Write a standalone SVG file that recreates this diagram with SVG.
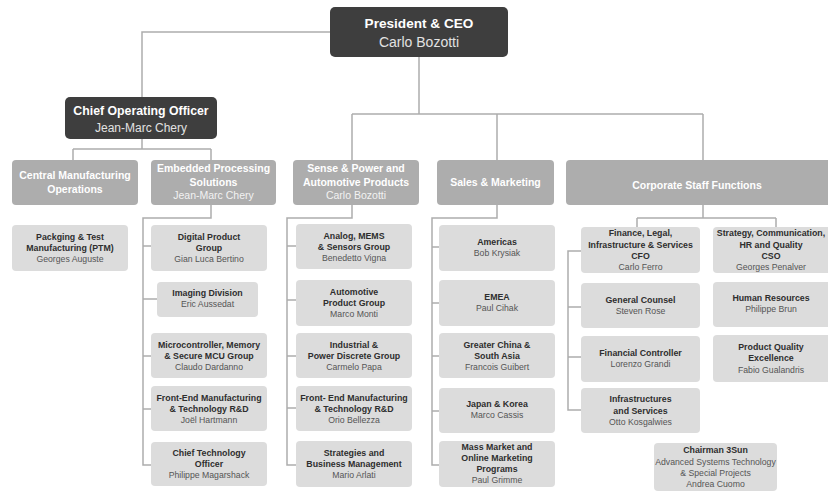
<svg xmlns="http://www.w3.org/2000/svg" width="828" height="492" viewBox="0 0 828 492">
<style>
text{font-family:"Liberation Sans","DejaVu Sans",sans-serif;text-anchor:middle}
.d{fill:#3e3e3e}
.m{fill:#adadad}
.l{fill:#dcdcdc}
.c{fill:none;stroke:#adadad;stroke-width:1.5}
.t1{font-size:13.6px;font-weight:bold;fill:#fff}
.n1{font-size:14px;fill:#e2e2e2}
.t2{font-size:12.3px;font-weight:bold;fill:#fff}
.n2{font-size:12px;fill:#e2e2e2}
.t3{font-size:10.5px;font-weight:bold;fill:#fff}
.n3{font-size:10.5px;fill:#f2f2f2}
.t4{font-size:8.8px;font-weight:bold;fill:#2e2e2e}
.n4{font-size:8.7px;fill:#555}
</style>
<g id="connectors">
<path class="c" d="M330,32H142V97"/>
<path class="c" d="M419,57V114M352,114H703M352,114V160M497,114V160M703,114V160"/>
<path class="c" d="M142,139V149M73,149H211M73,149V160M211,149V160"/>
<path class="c" d="M211,205V218H143V465H151M143,246H151M143,299H157M143,356H151M143,409H151"/>
<path class="c" d="M352,205V218H287V465H296M287,246H296M287,300H296M287,356H296M287,408H296"/>
<path class="c" d="M497,205V218H432V465H439M432,247H439M432,303H439M432,356H439M432,411H439"/>
<path class="c" d="M703,205V218M637,218H776M637,218V227M776,218V227"/>
<path class="c" d="M581,251H568V410H581M568,307H581M568,357H581"/>
</g>
<g id="ceo"><rect class="d" x="330" y="7" width="178" height="50" rx="5"/>
<text class="t1" x="419" y="28">President &amp; CEO</text><text class="n1" x="419" y="47">Carlo Bozotti</text></g>
<g id="coo"><rect class="d" x="65" y="97" width="152" height="42" rx="5"/>
<text class="t2" x="141" y="114.5">Chief Operating Officer</text><text class="n2" x="141" y="131.5">Jean-Marc Chery</text></g>
<g id="central"><rect class="m" x="12" y="160" width="126" height="45" rx="4"/>
<text class="t3" x="75" y="179">Central Manufacturing</text><text class="t3" x="75" y="193">Operations</text></g>
<g id="embedded"><rect class="m" x="151" y="160" width="125" height="45" rx="4"/>
<text class="t3" x="213.5" y="172">Embedded Processing</text><text class="t3" x="213.5" y="185.5">Solutions</text><text class="n3" x="213.5" y="199">Jean-Marc Chery</text></g>
<g id="sense"><rect class="m" x="293" y="160" width="126" height="45" rx="4"/>
<text class="t3" x="356" y="172">Sense &amp; Power and</text><text class="t3" x="356" y="185.5">Automotive Products</text><text class="n3" x="356" y="199">Carlo Bozotti</text></g>
<g id="sales"><rect class="m" x="437" y="160" width="117" height="45" rx="4"/>
<text class="t3" x="495.5" y="186">Sales &amp; Marketing</text></g>
<g id="corporate"><rect class="m" x="566" y="160" width="270" height="45" rx="4"/>
<text class="t3" x="697" y="188.5">Corporate Staff Functions</text></g>

<g id="ptm"><rect class="l" x="12" y="225" width="116" height="46" rx="4"/>
<text class="t4" x="70" y="240">Packging &amp; Test</text><text class="t4" x="70" y="251">Manufacturing (PTM)</text><text class="n4" x="70" y="262">Georges Auguste</text></g>
<g id="digital"><rect class="l" x="151" y="225" width="116" height="46" rx="4"/>
<text class="t4" x="209" y="240">Digital Product</text><text class="t4" x="209" y="251">Group</text><text class="n4" x="209" y="262">Gian Luca Bertino</text></g>
<g id="imaging"><rect class="l" x="157" y="282" width="101" height="35" rx="4"/>
<text class="t4" x="207.5" y="296">Imaging Division</text><text class="n4" x="207.5" y="307">Eric Aussedat</text></g>
<g id="mcu"><rect class="l" x="151" y="333" width="116" height="45" rx="4"/>
<text class="t4" x="209" y="348">Microcontroller, Memory</text><text class="t4" x="209" y="359">&amp; Secure MCU Group</text><text class="n4" x="209" y="370">Claudo Dardanno</text></g>
<g id="frontend1"><rect class="l" x="151" y="386" width="116" height="45" rx="4"/>
<text class="t4" x="209" y="401">Front-End Manufacturing</text><text class="t4" x="209" y="412">&amp; Technology R&amp;D</text><text class="n4" x="209" y="423">Joël Hartmann</text></g>
<g id="cto"><rect class="l" x="151" y="442" width="116" height="44" rx="4"/>
<text class="t4" x="209" y="456">Chief Technology</text><text class="t4" x="209" y="467">Officer</text><text class="n4" x="209" y="478">Philippe Magarshack</text></g>

<g id="analog"><rect class="l" x="296" y="224" width="116" height="45" rx="4"/>
<text class="t4" x="354" y="239">Analog, MEMS</text><text class="t4" x="354" y="250">&amp; Sensors Group</text><text class="n4" x="354" y="261">Benedetto Vigna</text></g>
<g id="automotive"><rect class="l" x="296" y="280" width="116" height="46" rx="4"/>
<text class="t4" x="354" y="295">Automotive</text><text class="t4" x="354" y="306">Product Group</text><text class="n4" x="354" y="317">Marco Monti</text></g>
<g id="industrial"><rect class="l" x="296" y="333" width="116" height="45" rx="4"/>
<text class="t4" x="354" y="348">Industrial &amp;</text><text class="t4" x="354" y="359">Power Discrete Group</text><text class="n4" x="354" y="370">Carmelo Papa</text></g>
<g id="frontend2"><rect class="l" x="296" y="386" width="116" height="45" rx="4"/>
<text class="t4" x="354" y="401">Front- End Manufacturing</text><text class="t4" x="354" y="412">&amp; Technology R&amp;D</text><text class="n4" x="354" y="423">Orio Bellezza</text></g>
<g id="strategies"><rect class="l" x="296" y="441" width="116" height="46" rx="4"/>
<text class="t4" x="354" y="456">Strategies and</text><text class="t4" x="354" y="467">Business Management</text><text class="n4" x="354" y="478">Mario Arlati</text></g>

<g id="americas"><rect class="l" x="439" y="225" width="116" height="46" rx="4"/>
<text class="t4" x="497" y="245">Americas</text><text class="n4" x="497" y="256">Bob Krysiak</text></g>
<g id="emea"><rect class="l" x="439" y="280" width="116" height="46" rx="4"/>
<text class="t4" x="497" y="300">EMEA</text><text class="n4" x="497" y="311">Paul Cihak</text></g>
<g id="china"><rect class="l" x="439" y="333" width="116" height="45" rx="4"/>
<text class="t4" x="497" y="348">Greater China &amp;</text><text class="t4" x="497" y="359">South Asia</text><text class="n4" x="497" y="370">Francois Guibert</text></g>
<g id="japan"><rect class="l" x="439" y="388" width="116" height="45" rx="4"/>
<text class="t4" x="497" y="407">Japan &amp; Korea</text><text class="n4" x="497" y="418">Marco Cassis</text></g>
<g id="massmarket"><rect class="l" x="439" y="441" width="116" height="46" rx="4"/>
<text class="t4" x="497" y="450">Mass Market and</text><text class="t4" x="497" y="461">Online Marketing</text><text class="t4" x="497" y="472">Programs</text><text class="n4" x="497" y="483">Paul Grimme</text></g>

<g id="finance"><rect class="l" x="581" y="227" width="119" height="46" rx="4"/>
<text class="t4" x="640.5" y="236">Finance, Legal,</text><text class="t4" x="640.5" y="247.5">Infrastructure &amp; Services</text><text class="t4" x="640.5" y="259">CFO</text><text class="n4" x="640.5" y="270">Carlo Ferro</text></g>
<g id="counsel"><rect class="l" x="581" y="283" width="119" height="45" rx="4"/>
<text class="t4" x="640.5" y="303">General Counsel</text><text class="n4" x="640.5" y="314">Steven Rose</text></g>
<g id="controller"><rect class="l" x="581" y="336" width="119" height="46" rx="4"/>
<text class="t4" x="640.5" y="356">Financial Controller</text><text class="n4" x="640.5" y="367">Lorenzo Grandi</text></g>
<g id="infra"><rect class="l" x="581" y="388" width="119" height="45" rx="4"/>
<text class="t4" x="640.5" y="402">Infrastructures</text><text class="t4" x="640.5" y="413.5">and Services</text><text class="n4" x="640.5" y="425">Otto Kosgalwies</text></g>

<g id="strategy"><rect class="l" x="713" y="227" width="120" height="46" rx="4"/>
<text class="t4" x="771" y="236">Strategy, Communication,</text><text class="t4" x="771" y="247.5">HR and Quality</text><text class="t4" x="771" y="259">CSO</text><text class="n4" x="771" y="270">Georges Penalver</text></g>
<g id="hr"><rect class="l" x="713" y="282" width="120" height="45" rx="4"/>
<text class="t4" x="771" y="301">Human Resources</text><text class="n4" x="771" y="312">Philippe Brun</text></g>
<g id="quality"><rect class="l" x="713" y="335" width="120" height="47" rx="4"/>
<text class="t4" x="771" y="350">Product Quality</text><text class="t4" x="771" y="361">Excellence</text><text class="n4" x="771" y="373">Fabio Gualandris</text></g>

<g id="chairman"><rect class="l" x="654" y="443" width="123" height="48" rx="4"/>
<text class="t4" x="715.5" y="453">Chairman 3Sun</text><text class="n4" x="715.5" y="465">Advanced Systems Technology</text><text class="n4" x="715.5" y="476">&amp; Special Projects</text><text class="n4" x="715.5" y="487">Andrea Cuomo</text></g>
</svg>
